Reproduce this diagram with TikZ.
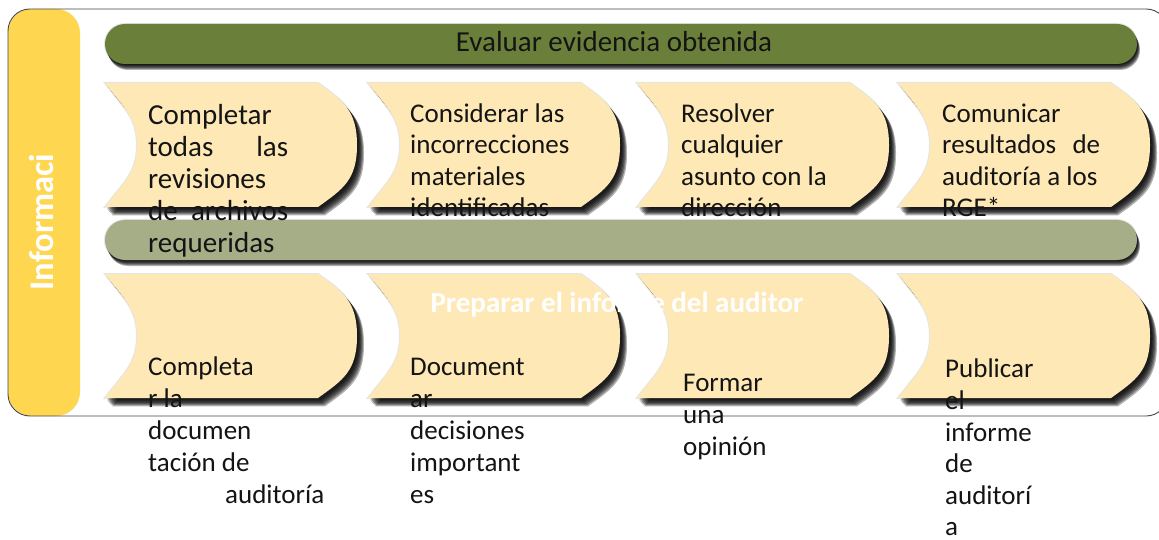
\documentclass[tikz,border=0pt]{standalone}
\usepackage{fontspec}
\setmainfont{Carlito}
\definecolor{dgreen}{RGB}{106,128,58}
\definecolor{lgreen}{RGB}{165,174,134}
\definecolor{chevfill}{RGB}{254,233,182}
\definecolor{goldbar}{RGB}{255,214,79}
\definecolor{txt}{RGB}{20,20,20}
\definecolor{bordercol}{RGB}{70,70,70}
\tikzset{
  chevshape/.style={fill=chevfill},
  shadowlayer/.style={fill=black, opacity=0.3},
  halolayer/.style={draw=black, opacity=0.10, line width=2pt},
  lbl/.style={anchor=north west, inner sep=0pt, text=txt, align=left},
  bodyfont/.style={font=\fontsize{27}{31.5}\selectfont},
  lowfont/.style={font=\fontsize{27}{32}\selectfont},
}
\newcommand\chevpath{(0,0) -- (213,0) .. controls (238,18) and (252,27) .. (252,62)
      .. controls (252,97) and (238,106) .. (213,124) -- (0,124)
      .. controls (18,100) and (32,90) .. (32,62)
      .. controls (32,34) and (18,24) .. (0,0) -- cycle}
\newcommand\mychevron[2]{%
  \begin{scope}[shift={(#1,#2)}]
    \path[halolayer] \chevpath;
    \foreach \d in {2,3,4,5,6,7}{\path[shadowlayer, shift={(\d,1.2*\d)}] \chevpath;}
    \path[chevshape] \chevpath;
  \end{scope}}
\newcommand\mybar[5]{% x1 y1 x2 y2 colour
  \path[halolayer, rounded corners=20pt] (#1,#2) rectangle (#3,#4);
  \foreach \d in {1,2,3,4,5,6}{\path[shadowlayer, rounded corners=20pt, shift={(0.5*\d,\d)}] (#1,#2) rectangle (#3,#4);}
  \path[fill=#5, rounded corners=20pt] (#1,#2) rectangle (#3,#4);}
\begin{document}
\begin{tikzpicture}[x=1pt,y=-1pt]
\useasboundingbox (0,0) rectangle (1159,540);
% outer frame and side bar
\fill[white] (0,0) rectangle (1159,540);
\fill[goldbar, rounded corners=24pt] (8,9) rectangle (80,416);
\draw[bordercol, line width=0.9pt, rounded corners=22pt] (8,9) rectangle (1168,416);
\node[rotate=90, anchor=base, inner sep=0pt, text=white, font=\fontsize{34.5}{34.5}\selectfont\bfseries] (side) at (53.5,222) {Informaci};
% bars
\mybar{105}{24}{1137}{64}{dgreen}
\node[anchor=base, inner sep=0pt, text=txt, font=\fontsize{29}{29}\selectfont] (top) at (614,52) {Evaluar evidencia obtenida};
\mybar{105}{220}{1137}{260}{lgreen}
% chevrons
\mychevron{105}{83}
\mychevron{368}{83}
\mychevron{637}{83}
\mychevron{898}{83}
\mychevron{105}{274}
\mychevron{368}{274}
\mychevron{637}{274}
\mychevron{898}{274}
% row 1 texts
\node[lbl, font=\fontsize{29}{32}\selectfont] (a1) at (148,101.6) {\strut Completar\\\makebox[140pt][s]{todas las}\\revisiones\\\makebox[140pt][s]{de archivos}\\requeridas};
\node[lbl, bodyfont] (a2) at (410,100) {\strut Considerar las\\incorrecciones\\materiales\\identificadas};
\node[lbl, bodyfont] (a3) at (681,100) {\strut Resolver\\cualquier\\asunto con la\\dirección};
\node[lbl, bodyfont] (a4) at (942,100) {\strut Comunicar\\\makebox[158pt][s]{resultados de}\\auditoría a los\\RGE*};
% row 2 texts
\node[anchor=base, inner sep=0pt, text=white, font=\fontsize{29}{29}\selectfont\bfseries] (mid) at (617,312) {Preparar el informe del auditor};
\node[lbl, lowfont] (b1) at (148,352.6) {\strut Completa\\r la\\documen\\tación de\\\hspace*{77pt}auditoría};
\node[lbl, lowfont] (b2) at (410,352.6) {\strut Document\\ar\\decisiones\\important\\es};
\node[lbl, lowfont] (b3) at (683,368.6) {\strut Formar\\una\\opinión};
\node[lbl, font=\fontsize{27}{31.6}\selectfont] (b4) at (945,355.5) {\strut Publicar\\el\\informe\\de\\auditorí\\a};
\end{tikzpicture}
\end{document}
